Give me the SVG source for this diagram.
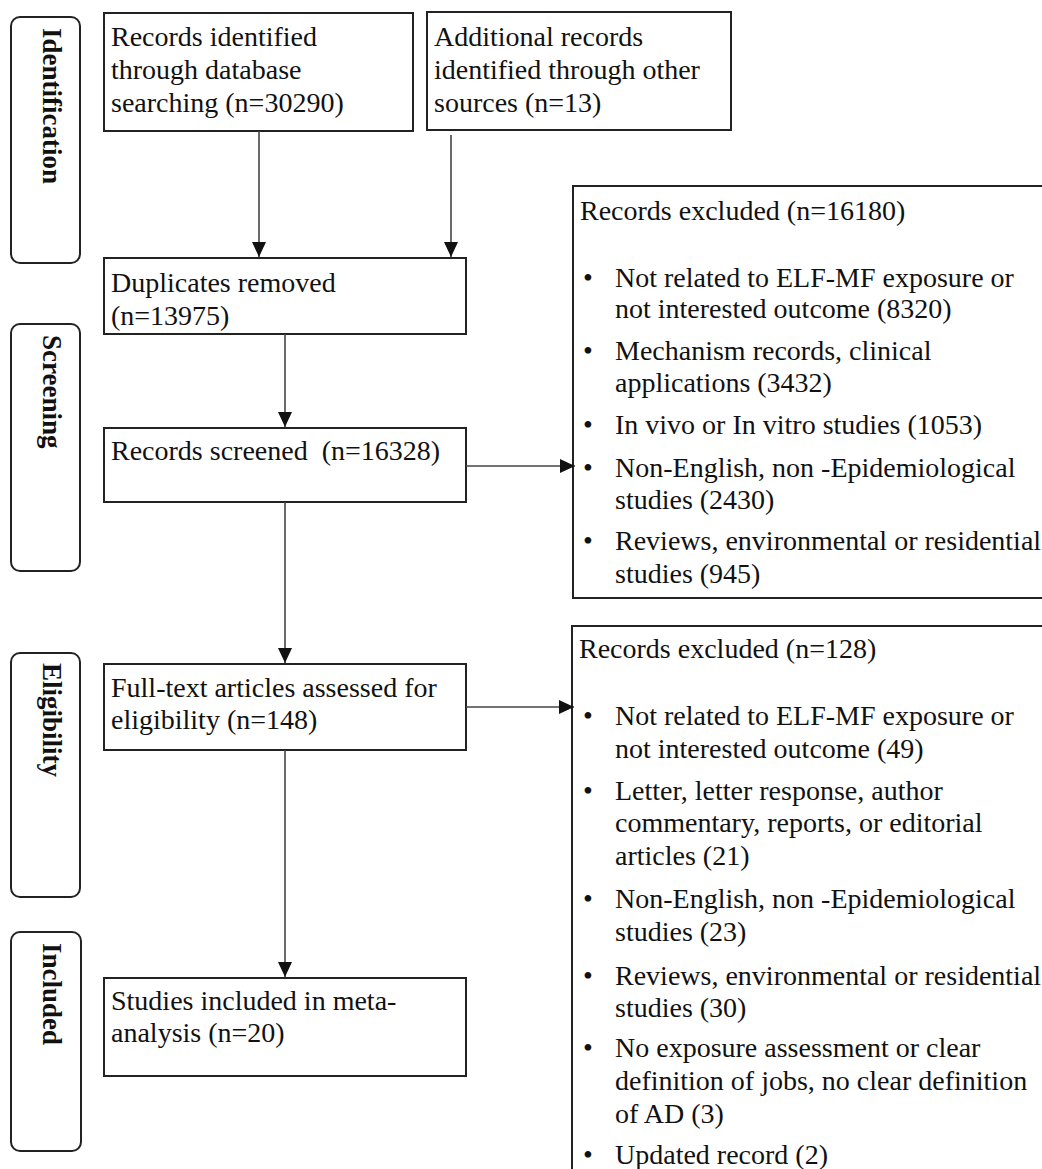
<svg xmlns="http://www.w3.org/2000/svg" width="1042" height="1169" viewBox="0 0 1042 1169">
<style>
.box{fill:#fff;stroke:#222;stroke-width:2}
.pill{fill:#fff;stroke:#222;stroke-width:2}
.t{font-family:"Liberation Serif","Times New Roman",serif;font-size:28px;fill:#111}
.lab{font-family:"Liberation Serif","Times New Roman",serif;font-size:27px;font-weight:bold;fill:#111}
.conn{fill:none;stroke:#444;stroke-width:1.6}
</style>
<defs>
<marker id="arr" markerUnits="userSpaceOnUse" markerWidth="15" markerHeight="14" refX="15" refY="7" orient="auto">
<path d="M0,0 L15,7 L0,14 z" fill="#111"/>
</marker>
</defs>
<rect width="1042" height="1169" fill="#fff"/>

<g id="stage-identification">
<rect class="pill" x="11" y="17" width="69" height="246" rx="9"/>
<text class="lab" transform="translate(43,28) rotate(90)">Identification</text>
</g>
<g id="stage-screening">
<rect class="pill" x="11" y="324" width="69" height="247" rx="9"/>
<text class="lab" transform="translate(43,335) rotate(90)">Screening</text>
</g>
<g id="stage-eligibility">
<rect class="pill" x="11" y="653" width="69" height="244" rx="9"/>
<text class="lab" transform="translate(43,663) rotate(90)">Eligibility</text>
</g>
<g id="stage-included">
<rect class="pill" x="11" y="932" width="70" height="219" rx="9"/>
<text class="lab" transform="translate(43,943) rotate(90)">Included</text>
</g>

<g id="db-records">
<rect class="box" x="104" y="13" width="309" height="118"/>
<text class="t" x="111" y="46">Records identified</text>
<text class="t" x="111" y="79">through database</text>
<text class="t" x="111" y="112">searching (n=30290)</text>
</g>
<g id="other-records">
<rect class="box" x="427" y="12" width="304" height="118"/>
<text class="t" x="434" y="46">Additional records</text>
<text class="t" x="434" y="79">identified through other</text>
<text class="t" x="434" y="112">sources (n=13)</text>
</g>
<g id="duplicates">
<rect class="box" x="104" y="258" width="362" height="76"/>
<text class="t" x="111" y="292">Duplicates removed</text>
<text class="t" x="111" y="325">(n=13975)</text>
</g>
<g id="screened">
<rect class="box" x="104" y="428" width="362" height="74"/>
<text class="t" x="111" y="460">Records screened&#160; (n=16328)</text>
</g>
<g id="fulltext">
<rect class="box" x="104" y="664" width="362" height="86"/>
<text class="t" x="111" y="697">Full-text articles assessed for</text>
<text class="t" x="111" y="729">eligibility (n=148)</text>
</g>
<g id="included">
<rect class="box" x="104" y="978" width="362" height="98"/>
<text class="t" x="111" y="1010">Studies included in meta-</text>
<text class="t" x="111" y="1042">analysis (n=20)</text>
</g>

<g id="excluded-screening">
<rect class="box" x="573" y="186" width="500" height="412"/>
<text class="t" x="580" y="220">Records excluded (n=16180)</text>
<text class="t" x="583" y="287">•</text><text class="t" x="615" y="287">Not related to ELF-MF exposure or</text>
<text class="t" x="615" y="318">not interested outcome (8320)</text>
<text class="t" x="583" y="360">•</text><text class="t" x="615" y="360">Mechanism records, clinical</text>
<text class="t" x="615" y="392">applications (3432)</text>
<text class="t" x="583" y="434">•</text><text class="t" x="615" y="434">In vivo or In vitro studies (1053)</text>
<text class="t" x="583" y="477">•</text><text class="t" x="615" y="477">Non-English, non -Epidemiological</text>
<text class="t" x="615" y="509">studies (2430)</text>
<text class="t" x="583" y="550">•</text><text class="t" x="615" y="550">Reviews, environmental or residential</text>
<text class="t" x="615" y="583">studies (945)</text>
</g>
<g id="excluded-eligibility">
<rect class="box" x="572" y="626" width="500" height="600"/>
<text class="t" x="579" y="658">Records excluded (n=128)</text>
<text class="t" x="583" y="725">•</text><text class="t" x="615" y="725">Not related to ELF-MF exposure or</text>
<text class="t" x="615" y="758">not interested outcome (49)</text>
<text class="t" x="583" y="800">•</text><text class="t" x="615" y="800">Letter, letter response, author</text>
<text class="t" x="615" y="832">commentary, reports, or editorial</text>
<text class="t" x="615" y="865">articles (21)</text>
<text class="t" x="583" y="908">•</text><text class="t" x="615" y="908">Non-English, non -Epidemiological</text>
<text class="t" x="615" y="941">studies (23)</text>
<text class="t" x="583" y="985">•</text><text class="t" x="615" y="985">Reviews, environmental or residential</text>
<text class="t" x="615" y="1017">studies (30)</text>
<text class="t" x="583" y="1057">•</text><text class="t" x="615" y="1057">No exposure assessment or clear</text>
<text class="t" x="615" y="1090">definition of jobs, no clear definition</text>
<text class="t" x="615" y="1123">of AD (3)</text>
<text class="t" x="583" y="1164">•</text><text class="t" x="615" y="1164">Updated record (2)</text>
</g>

<g id="connectors">
<line class="conn" x1="259" y1="131" x2="259" y2="257" marker-end="url(#arr)"/>
<line class="conn" x1="451" y1="135" x2="451" y2="257" marker-end="url(#arr)"/>
<line class="conn" x1="285" y1="334" x2="285" y2="427" marker-end="url(#arr)"/>
<line class="conn" x1="466" y1="466" x2="575" y2="466" marker-end="url(#arr)"/>
<line class="conn" x1="285" y1="502" x2="285" y2="663" marker-end="url(#arr)"/>
<line class="conn" x1="466" y1="707" x2="574" y2="707" marker-end="url(#arr)"/>
<line class="conn" x1="285" y1="750" x2="285" y2="977" marker-end="url(#arr)"/>
</g>
</svg>
